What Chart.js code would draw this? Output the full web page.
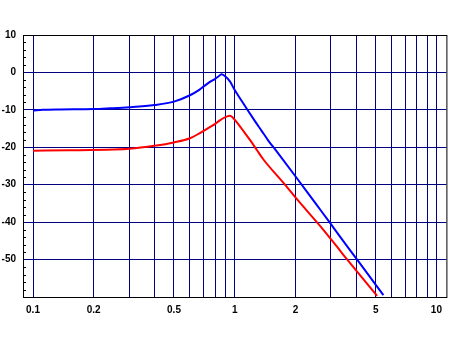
<!DOCTYPE html>
<html>
<head>
<meta charset="utf-8">
<script src="https://cdn.jsdelivr.net/npm/chart.js@4.4.0/dist/chart.umd.min.js"></script>
<style>
html,body{margin:0;padding:0;background:#fff;}
canvas{display:block;}
</style>
</head>
<body>
<canvas id="c" width="449" height="349"></canvas>
<script>
// ---- data ----
const blueFreq = [0.1, 0.112, 0.136, 0.2, 0.24, 0.3, 0.4, 0.5, 0.6, 0.67, 0.7, 0.75, 0.8, 0.83, 0.86, 0.89, 0.947, 1.0, 1.08, 1.167, 1.26, 1.36, 1.467, 1.615, 2.03, 2.55, 2.97, 3.3, 4.03, 5.46];
const blueVal  = [-10.2, -10.0, -9.9, -9.8, -9.6, -9.3, -8.7, -7.8, -6.1, -4.6, -3.8, -2.6, -1.7, -1.1, -0.5, -0.9, -2.4, -4.7, -7.5, -10.3, -13.0, -15.6, -18.2, -21.1, -28.2, -35.4, -40.2, -43.6, -49.9, -59.5];
const redFreq  = [0.1, 0.15, 0.25, 0.3, 0.4, 0.5, 0.6, 0.672, 0.753, 0.797, 0.844, 0.894, 0.947, 0.98, 1.02, 1.11, 1.2, 1.29, 1.385, 1.75, 2.03, 2.65, 3.33, 3.6, 5.08];
const redVal   = [-20.9, -20.8, -20.6, -20.4, -19.6, -18.7, -17.6, -16.2, -14.6, -13.8, -12.8, -12.0, -11.6, -12.1, -13.2, -15.8, -18.3, -20.8, -23.2, -29.6, -33.8, -41.0, -47.6, -49.9, -59.7];
const xGridVals  = [0.1,0.2,0.3,0.4,0.5,0.6,0.7,0.8,0.9,1,2,3,4,5,6,7,8,9,10];
const xLabelVals = [0.1, 0.2, 0.5, 1, 2, 5, 10];
const yTickVals  = [-60, -50, -40, -30, -20, -10, 0, 10];

const GRID = '#000080';
const FONT = {family: '"Liberation Sans", Arial, sans-serif', size: 10, weight: 'bold'};

const toPts = (f, v) => f.map((x, i) => ({x: x, y: v[i]}));

const framePlugin = {
  id: 'frame',
  beforeDatasetsDraw(chart) {
    const {ctx, chartArea: a, scales} = chart;
    ctx.save();
    ctx.strokeStyle = '#000';
    ctx.lineWidth = 1;
    ctx.strokeRect(a.left + 0.5, a.top + 0.5, a.right - a.left, a.bottom - a.top);
    // minor ticks on the y axis, inside the frame
    const ys = scales.y;
    ctx.beginPath();
    for (let v = -58; v < 10; v += 2) {
      if (v % 10 === 0) continue;
      const py = Math.round(ys.getPixelForValue(v)) + 0.5;
      ctx.moveTo(a.left, py);
      ctx.lineTo(a.left + 3, py);
    }
    ctx.stroke();
    ctx.restore();
  }
};

new Chart(document.getElementById('c'), {
  type: 'line',
  data: {
    datasets: [
      {data: toPts(blueFreq, blueVal), borderColor: '#0000ff', borderWidth: 2, pointRadius: 0, cubicInterpolationMode: 'monotone', fill: false},
      {data: toPts(redFreq, redVal), borderColor: '#ff0000', borderWidth: 2, pointRadius: 0, cubicInterpolationMode: 'monotone', fill: false}
    ]
  },
  options: {
    responsive: false,
    animation: false,
    layout: {padding: {top: 35, right: 2, left: 0, bottom: 0}},
    plugins: {legend: {display: false}, tooltip: {enabled: false}},
    scales: {
      x: {
        type: 'logarithmic',
        min: 0.0892,
        max: 11.21,
        afterBuildTicks: (s) => { s.ticks = xGridVals.map(v => ({value: v})); },
        afterFit: (s) => { s.height = 52; },
        ticks: {
          autoSkip: false, maxRotation: 0, padding: 7, color: '#000', font: FONT,
          callback: (v) => xLabelVals.some(l => Math.abs(l - v) < 1e-9) ? String(v) : ''
        },
        grid: {color: GRID, lineWidth: 1, drawTicks: false},
        border: {display: false}
      },
      y: {
        type: 'linear',
        min: -60,
        max: 10,
        afterBuildTicks: (s) => { s.ticks = yTickVals.map(v => ({value: v})); },
        afterFit: (s) => { s.width = 23; },
        ticks: {
          padding: 7, color: '#000', font: FONT,
          callback: (v) => v === -60 ? '' : String(v)
        },
        grid: {
          color: (c) => (c.tick && (c.tick.value === 10 || c.tick.value === -60)) ? 'rgba(0,0,0,0)' : GRID,
          lineWidth: 1, drawTicks: false
        },
        border: {display: false}
      }
    }
  },
  plugins: [framePlugin]
});
</script>
</body>
</html>
